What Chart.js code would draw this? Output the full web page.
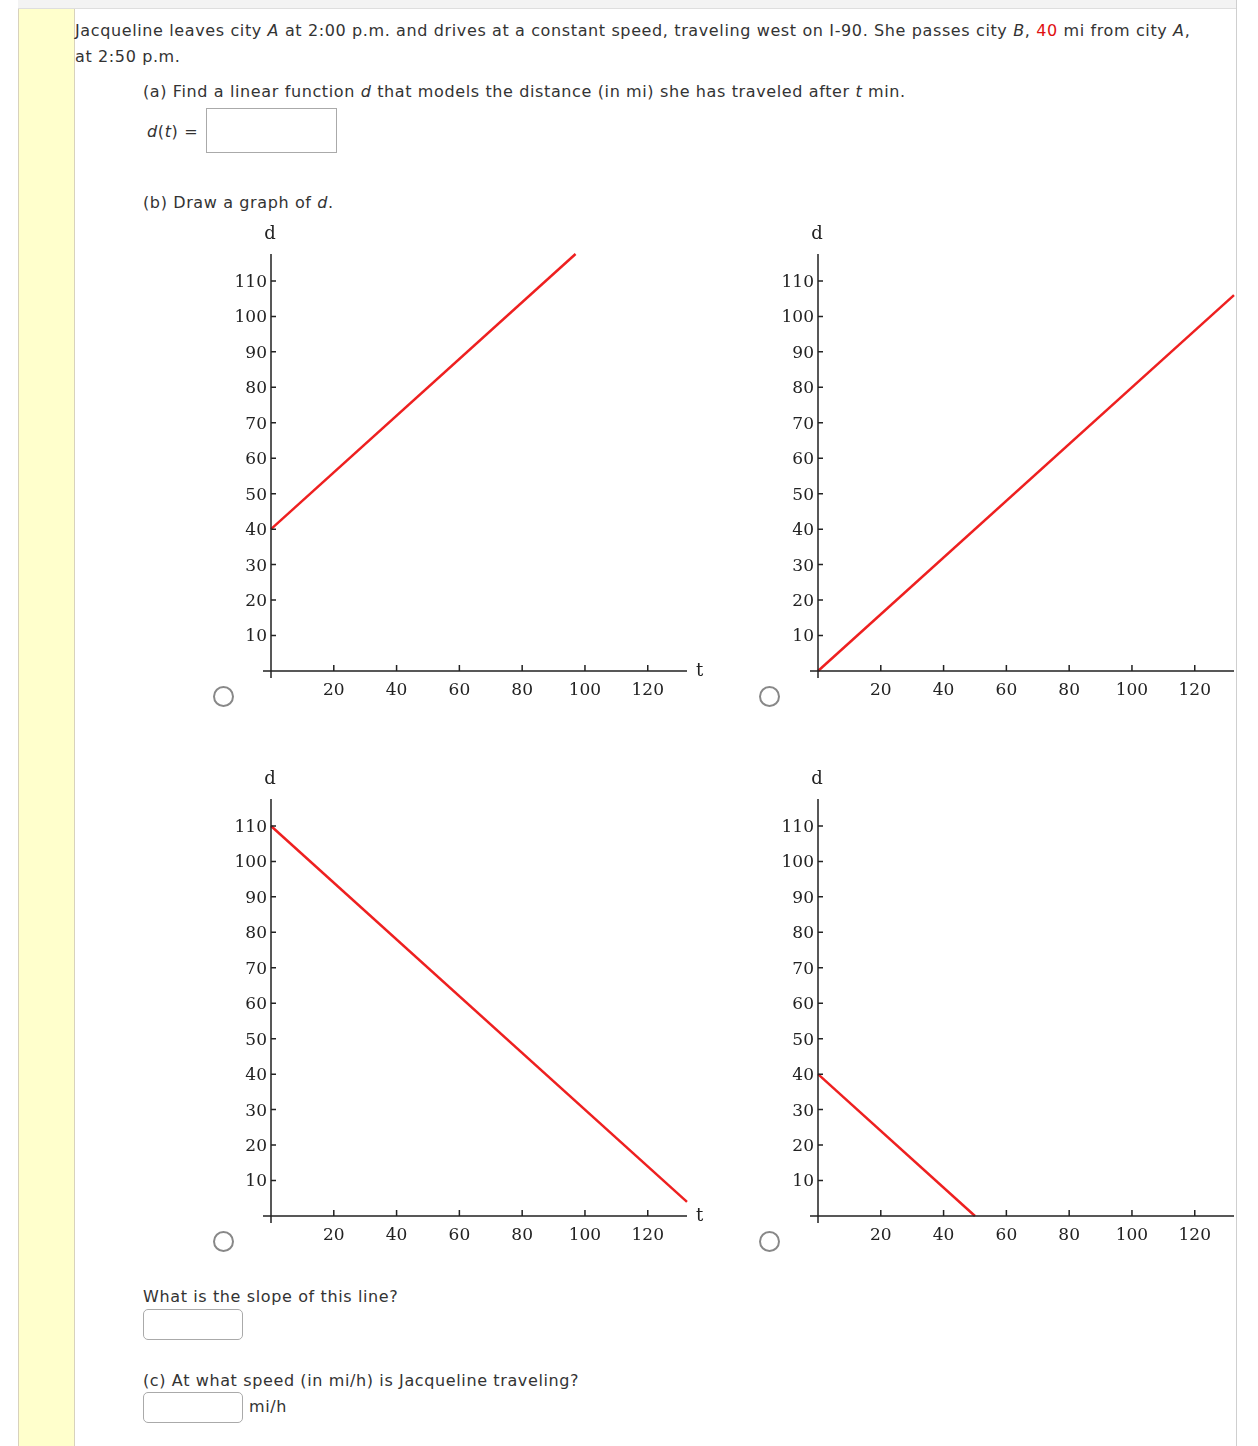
<!DOCTYPE html>
<html>
<head>
<meta charset="utf-8">
<script src="https://cdn.jsdelivr.net/npm/chart.js@4"></script>
<style>
  html, body { margin: 0; padding: 0; background: #fff; }
  body { width: 1258px; height: 1446px; position: relative; overflow: hidden;
         font-family: 'DejaVu Sans', Verdana, sans-serif; font-size: 16px; color: #333; }
  .topbar { position: absolute; left: 18px; top: 0; width: 1218px; height: 8px;
            background: #f3f3f3; border-bottom: 1px solid #dedede; }
  .rborder { position: absolute; left: 1236px; top: 0; width: 1px; height: 1446px; background: #cfcfcf; }
  .stripe { position: absolute; left: 18px; top: 9px; width: 55px; height: 1437px;
            background: #ffffcc; border-left: 1px solid #d8d2bc; border-right: 1px solid #d8d2bc; }
  .txt { position: absolute; white-space: nowrap; line-height: 26px; letter-spacing: 0.62px; }
  .box { position: absolute; border: 1px solid #aaa; background: #fff; box-sizing: border-box; }
  .rbox { position: absolute; border: 1px solid #aaa; border-radius: 5px; background: #fff; box-sizing: border-box; }
  .radio { position: absolute; width: 21px; height: 21px; border: 2px solid #888; border-radius: 50%;
           box-sizing: border-box; background: #fff; }
  .clipbox { position: absolute; height: 490px; overflow: hidden; }
  .chartbox { position: absolute; left: 0; top: 0; width: 500px; height: 490px; }
  i { font-style: italic; }
  .red { color: #e01010; }
</style>
</head>
<body>
<div class="topbar"></div>
<div class="rborder"></div>
<div class="stripe"></div>

<div class="txt" style="left:75px; top:18px;">Jacqueline leaves city <i>A</i> at 2:00 p.m. and drives at a constant speed, traveling west on I-90. She passes city <i>B</i>, <span class="red">40</span> mi from city <i>A</i>,</div>
<div class="txt" style="left:75px; top:44px;">at 2:50 p.m.</div>
<div class="txt" style="left:143px; top:79px;">(a) Find a linear function <i>d</i> that models the distance (in mi) she has traveled after <i>t</i> min.</div>
<div class="txt" style="left:147px; top:119px;"><i>d</i>(<i>t</i>) =</div>
<div class="box" style="left:206px; top:108px; width:131px; height:45px;"></div>
<div class="txt" style="left:143px; top:190px;">(b) Draw a graph of <i>d</i>.</div>

<div class="clipbox" style="left:210px; top:220px; width:500px;"><div class="chartbox"><canvas id="c1"></canvas></div></div>
<div class="clipbox" style="left:757px; top:220px; width:479px;"><div class="chartbox"><canvas id="c2"></canvas></div></div>
<div class="clipbox" style="left:210px; top:765px; width:500px;"><div class="chartbox"><canvas id="c3"></canvas></div></div>
<div class="clipbox" style="left:757px; top:765px; width:479px;"><div class="chartbox"><canvas id="c4"></canvas></div></div>

<div class="radio" style="left:213px; top:686px;"></div>
<div class="radio" style="left:759px; top:686px;"></div>
<div class="radio" style="left:213px; top:1231px;"></div>
<div class="radio" style="left:759px; top:1231px;"></div>

<div class="txt" style="left:143px; top:1284px;">What is the slope of this line?</div>
<div class="rbox" style="left:143px; top:1309px; width:100px; height:31px;"></div>
<div class="txt" style="left:143px; top:1368px;">(c) At what speed (in mi/h) is Jacqueline traveling?</div>
<div class="rbox" style="left:143px; top:1392px; width:100px; height:31px;"></div>
<div class="txt" style="left:249px; top:1394px;">mi/h</div>

<script>
// tick labels shared by all four graphs
const tTicks = [20, 40, 60, 80, 100, 120];
const dTicks = [10, 20, 30, 40, 50, 60, 70, 80, 90, 100, 110];

// axis ranges as seen in the picture
const tMin = 0, tMax = 132.5;
const dMin = 0, dMax = 117.6;

// line endpoints (t in min, d in mi)
const line1T = [0, 97];
const line1D = [40, 117.6];
const line2T = [0, 132.5];
const line2D = [0, 106];
const line3T = [0, 132.5];
const line3D = [110, 4];
const line4T = [0, 50];
const line4D = [40, 0];

const axisColor = '#222';
const serif = 'DejaVu Serif';

// draws the axis lines with inward ticks and the d / t names
const axesPlugin = {
    id: 'axes',
    afterDraw(chart) {
        const ctx = chart.ctx;
        const xs = chart.scales.x, ys = chart.scales.y;
        const x0 = xs.getPixelForValue(0);
        const y0 = ys.getPixelForValue(0);
        const area = chart.chartArea;
        ctx.save();
        ctx.strokeStyle = axisColor;
        ctx.lineWidth = 1.5;
        ctx.beginPath();
        ctx.moveTo(x0 - 8, y0);
        ctx.lineTo(area.right, y0);
        ctx.moveTo(x0, area.top);
        ctx.lineTo(x0, y0 + 7);
        tTicks.forEach(v => {
            const px = xs.getPixelForValue(v);
            ctx.moveTo(px, y0);
            ctx.lineTo(px, y0 - 6);
        });
        dTicks.forEach(v => {
            const py = ys.getPixelForValue(v);
            ctx.moveTo(x0, py);
            ctx.lineTo(x0 + 5, py);
        });
        ctx.stroke();
        ctx.fillStyle = axisColor;
        ctx.font = '18px "' + serif + '"';
        ctx.textAlign = 'center';
        ctx.textBaseline = 'middle';
        ctx.fillText('d', x0 - 1, area.top - 20);
        ctx.textAlign = 'left';
        ctx.fillText('t', area.right + 9, y0);
        ctx.restore();
    }
};

function makeGraph(id, ts, ds) {
    const el = document.getElementById(id);
    return new Chart(el.getContext('2d'), {
        type: 'scatter',
        data: {
            datasets: [{
                data: ts.map((t, i) => ({ x: t, y: ds[i] })),
                showLine: true,
                borderColor: 'rgb(238, 32, 32)',
                borderWidth: 2.5,
                pointRadius: 0,
                clip: 2
            }]
        },
        options: {
            responsive: true,
            maintainAspectRatio: false,
            animation: false,
            layout: { padding: { left: 21, right: 23, top: 34, bottom: 9 } },
            plugins: { legend: { display: false }, tooltip: { enabled: false } },
            scales: {
                x: {
                    type: 'linear',
                    position: 'bottom',
                    min: tMin,
                    max: tMax,
                    grid: { display: false, drawTicks: false },
                    border: { display: false },
                    afterBuildTicks: s => { s.ticks = tTicks.map(v => ({ value: v })); },
                    afterFit: s => { s.height = 30; },
                    ticks: { autoSkip: false, maxRotation: 0, padding: 9, color: axisColor,
                             font: { family: serif, size: 17 } }
                },
                y: {
                    type: 'linear',
                    position: 'left',
                    min: dMin,
                    max: dMax,
                    grid: { display: false, drawTicks: false },
                    border: { display: false },
                    afterBuildTicks: s => { s.ticks = dTicks.map(v => ({ value: v })); },
                    afterFit: s => { s.width = 40; },
                    ticks: { autoSkip: false, padding: 4, labelOffset: 1.5, color: axisColor,
                             font: { family: serif, size: 17 } }
                }
            }
        },
        plugins: [axesPlugin]
    });
}

makeGraph('c1', line1T, line1D);
makeGraph('c2', line2T, line2D);
makeGraph('c3', line3T, line3D);
makeGraph('c4', line4T, line4D);
</script>
</body>
</html>
